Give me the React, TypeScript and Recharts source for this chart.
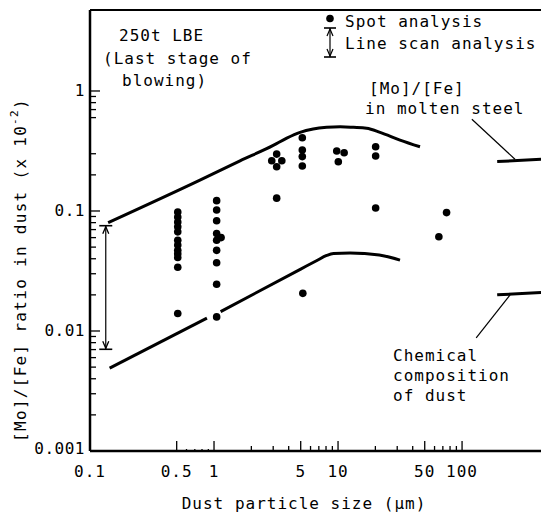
import React from 'react';
import { ComposedChart, Scatter, Line, XAxis, YAxis, ReferenceLine } from 'recharts';

const FONT = '"DejaVu Sans Mono", "Liberation Mono", monospace';

// Spot analysis: dust particle size (µm) and [Mo]/[Fe] ratio (x 10^-2)
const spotSize = [
  0.51, 0.51, 0.51, 0.51, 0.51, 0.51, 0.51, 0.51, 0.51, 0.51, 0.51, 0.51,
  1.05, 1.05, 1.05, 1.05, 1.05, 1.05, 1.05, 1.05, 1.05, 1.14,
  3.2, 2.92, 3.52, 3.2, 3.2,
  5.15, 5.15, 5.15, 5.15, 5.2,
  9.76, 11.2, 10.05,
  20.1, 20.1, 20.1,
  75, 65,
];
const spotRatio = [
  0.098, 0.089, 0.081, 0.074, 0.067, 0.057, 0.052, 0.047, 0.044, 0.041, 0.034, 0.014,
  0.122, 0.102, 0.083, 0.065, 0.057, 0.047, 0.037, 0.0245, 0.0131, 0.06,
  0.298, 0.262, 0.262, 0.234, 0.128,
  0.408, 0.322, 0.284, 0.237, 0.0206,
  0.316, 0.306, 0.257,
  0.343, 0.287, 0.106,
  0.097, 0.061,
];

// envelope of chemical composition of dust
const upperSize = [0.14, 0.77, 1.62, 3.0, 3.86, 4.94, 6.3, 8.1, 10.4, 13.3, 17.0, 21.8, 31.6, 45.8];
const upperRatio = [0.08, 0.181, 0.262, 0.352, 0.405, 0.452, 0.482, 0.498, 0.504, 0.498, 0.489, 0.452, 0.39, 0.343];
const lowerSizeA = [0.144, 0.877];
const lowerRatioA = [0.0049, 0.0128];
const lowerSizeB = [1.13, 5.0, 6.7, 8.1, 9.2, 12.5, 21.5, 31.6];
const lowerRatioB = [0.0145, 0.0328, 0.0385, 0.0426, 0.0442, 0.0447, 0.043, 0.039];

// [Mo]/[Fe] in molten steel
const steelSize = [192, 433];
const steelHigh = [0.258, 0.27];
const steelLow = [0.02, 0.0209];

// line scan analysis range
const scanSize = 0.134;
const scanLow = 0.00704;
const scanHigh = 0.0754;

const xMajor = [0.1, 0.5, 1, 5, 10, 50, 100];
const xMinor = [0.6, 0.7, 0.8, 0.9, 2, 3, 4, 6, 7, 8, 9, 20, 30, 40, 60, 70, 80, 90];
const yMajor = [0.001, 0.01, 0.1, 1];
const yMinor = [
  0.002, 0.003, 0.004, 0.005, 0.006, 0.007, 0.008, 0.009,
  0.02, 0.03, 0.04, 0.05, 0.06, 0.07, 0.08, 0.09,
  0.2, 0.3, 0.6, 0.7, 0.8, 0.9,
];

const X_MAX = 433;
const Y_MAX = 4.73;

const zip = (xs: number[], ys: number[]) => xs.map((x, i) => ({ x, y: ys[i] }));

const spots = zip(spotSize, spotRatio);
const upper = zip(upperSize, upperRatio);
const lowerA = zip(lowerSizeA, lowerRatioA);
const lowerB = zip(lowerSizeB, lowerRatioB);
const steelA = zip(steelSize, steelHigh);
const steelB = zip(steelSize, steelLow);
const scan = [
  { x: scanSize, y: scanHigh, end: 'top' },
  { x: scanSize, y: scanLow, end: 'bottom' },
];

const XTick = (props: any) => {
  const { x, y, payload } = props;
  const v = payload.value;
  const major = xMajor.includes(v);
  const len = major ? 10 : v < 1 ? 2 : 5;
  return (
    <g>
      {v > 0.1 && <line x1={x} x2={x} y1={y} y2={y - len} stroke="#000" strokeWidth={1.3} />}
      {major && (
        <text x={x} y={y + 20} textAnchor="middle" dominantBaseline="central"
          fontFamily={FONT} fontSize={16} letterSpacing={1} fill="#000">
          {v}
        </text>
      )}
    </g>
  );
};

const YTick = (props: any) => {
  const { x, y, payload } = props;
  const v = payload.value;
  const major = yMajor.includes(v);
  const len = major ? 10 : 6;
  return (
    <g>
      {v > 0.001 && <line x1={x} x2={x + len} y1={y} y2={y} stroke="#000" strokeWidth={1.3} />}
      {major && (
        <text x={x - 5} y={v === 0.001 ? y - 3 : y} textAnchor="end" dominantBaseline="central"
          fontFamily={FONT} fontSize={16} letterSpacing={0.5} fill="#000">
          {v}
        </text>
      )}
    </g>
  );
};

const Dot = (props: any) => <circle cx={props.cx} cy={props.cy} r={3.8} fill="#000" />;

const ScanEnd = (props: any) => {
  const { cx, cy, payload } = props;
  const d = payload.end === 'top' ? 1 : -1;
  return (
    <g>
      <line x1={cx - 6.5} x2={cx + 6.5} y1={cy} y2={cy} stroke="#000" strokeWidth={1.6} />
      <path d={`M${cx - 3},${cy + d * 8} L${cx},${cy + d} L${cx + 3},${cy + d * 8}`}
        stroke="#000" strokeWidth={1.3} fill="none" />
    </g>
  );
};

const txt = { fontFamily: FONT, fontSize: 16, letterSpacing: 1, fill: '#000', dominantBaseline: 'central' } as any;

export default function App() {
  return (
    <div style={{ position: 'absolute', left: 0, top: 0, width: 541, height: 513, background: '#fff', overflow: 'hidden' }}>
      <ComposedChart width={541} height={513} margin={{ top: 10, right: 0, bottom: 0, left: 0 }}>
        <XAxis type="number" dataKey="x" scale="log" domain={[0.1, X_MAX]} allowDataOverflow
          ticks={[...xMajor, ...xMinor]} interval={0} tick={<XTick />} tickLine={false}
          tickSize={0} tickMargin={0} height={62} axisLine={{ stroke: '#000', strokeWidth: 2.5 }} />
        <YAxis type="number" dataKey="y" scale="log" domain={[0.001, Y_MAX]} allowDataOverflow
          ticks={[...yMajor, ...yMinor]} interval={0} tick={<YTick />} tickLine={false}
          tickSize={0} tickMargin={0} width={90} axisLine={{ stroke: '#000', strokeWidth: 2.5 }} />
        <ReferenceLine y={Y_MAX} stroke="#000" strokeWidth={2} ifOverflow="visible" />
        <ReferenceLine segment={[{ x: 120, y: 0.581 }, { x: 267, y: 0.27 }]} stroke="#000" strokeWidth={1.2} ifOverflow="visible" />
        <ReferenceLine segment={[{ x: 130, y: 0.00875 }, { x: 244, y: 0.02 }]} stroke="#000" strokeWidth={1.2} ifOverflow="visible" />
        <Line data={upper} dataKey="y" type="monotone" stroke="#000" strokeWidth={3} dot={false} activeDot={false} isAnimationActive={false} />
        <Line data={lowerA} dataKey="y" type="linear" stroke="#000" strokeWidth={3} dot={false} activeDot={false} isAnimationActive={false} />
        <Line data={lowerB} dataKey="y" type="monotone" stroke="#000" strokeWidth={3} dot={false} activeDot={false} isAnimationActive={false} />
        <Line data={steelA} dataKey="y" type="linear" stroke="#000" strokeWidth={3} dot={false} activeDot={false} isAnimationActive={false} />
        <Line data={steelB} dataKey="y" type="linear" stroke="#000" strokeWidth={3} dot={false} activeDot={false} isAnimationActive={false} />
        <Scatter data={scan} shape={<ScanEnd />} line={{ stroke: '#000', strokeWidth: 1.2 }} isAnimationActive={false} />
        <Scatter data={spots} shape={<Dot />} isAnimationActive={false} />
      </ComposedChart>
      <svg width={541} height={513} style={{ position: 'absolute', left: 0, top: 0, pointerEvents: 'none' }}>
        {/* legend */}
        <circle cx={330} cy={18.5} r={3.8} fill="#000" />
        <line x1={330} x2={330} y1={28} y2={57} stroke="#000" strokeWidth={1.2} />
        <line x1={324} x2={336} y1={28} y2={28} stroke="#000" strokeWidth={1.6} />
        <line x1={324} x2={336} y1={57} y2={57} stroke="#000" strokeWidth={1.6} />
        <path d="M327,36 L330,29 L333,36" stroke="#000" strokeWidth={1.2} fill="none" />
        <path d="M327,49 L330,56 L333,49" stroke="#000" strokeWidth={1.2} fill="none" />
        <text x={345} y={21} {...txt}>Spot analysis</text>
        <text x={345} y={43} {...txt}>Line scan analysis</text>

        <text x={119} y={35} {...txt}>250t LBE</text>
        <text x={103} y={58} {...txt}>(Last stage of</text>
        <text x={122} y={80} {...txt}>blowing)</text>

        <text x={369} y={88} {...txt}>[Mo]/[Fe]</text>
        <text x={365} y={108} {...txt}>in molten steel</text>

        <text x={393} y={355} {...txt}>Chemical</text>
        <text x={393} y={375} {...txt}>composition</text>
        <text x={393} y={395} {...txt}>of dust</text>

        <text x={304} y={503} textAnchor="middle" {...txt}>Dust particle size (μm)</text>
        <text transform="translate(20,270) rotate(-90)" textAnchor="middle" {...txt} letterSpacing={1.3}>
          [Mo]/[Fe] ratio in dust (x 10<tspan dy={-6} fontSize={11}>-2</tspan><tspan dy={6}>)</tspan>
        </text>
      </svg>
    </div>
  );
}
